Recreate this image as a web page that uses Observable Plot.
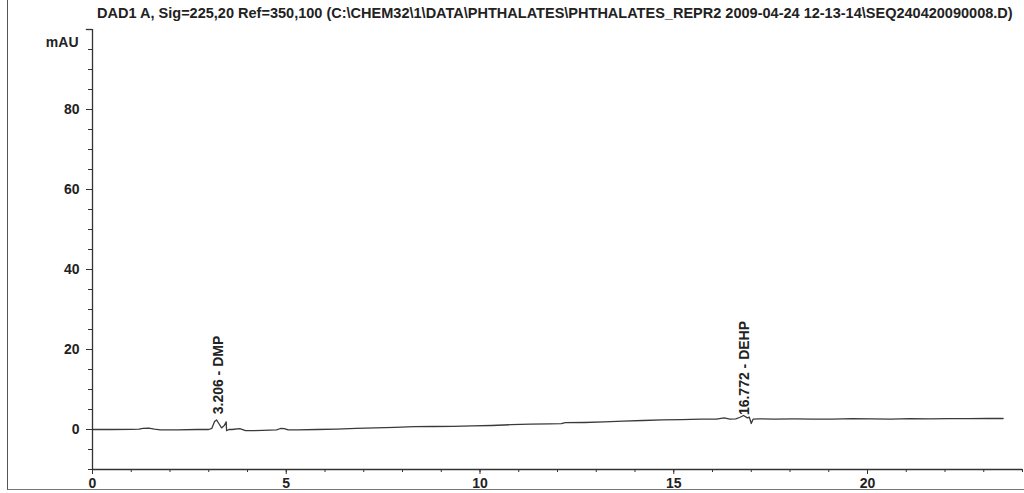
<!DOCTYPE html>
<html>
<head>
<meta charset="utf-8">
<script src="https://cdn.jsdelivr.net/npm/d3@7"></script>
<script src="https://cdn.jsdelivr.net/npm/@observablehq/plot@0.6"></script>
<style>
  html, body { margin: 0; padding: 0; background: #fff; }
  #wrap { position: relative; width: 1024px; height: 493px; overflow: hidden; font-family: "Liberation Sans", Arial, sans-serif; }
  #border { position: absolute; left: 7px; top: -2px; right: -2px; height: 491px; border-left: 1.5px solid #555; border-bottom: 1.5px solid #777; pointer-events: none; }
  #title { position: absolute; left: 97px; top: 5px; white-space: nowrap; font-weight: bold; color: #222; font-size: 12px; line-height: 16px; }
  #chart svg text { font-weight: bold; }
</style>
</head>
<body>
<div id="wrap">
  <div id="chart"></div>
  <div id="border"></div>
  <div id="title">DAD1 A, Sig=225,20 Ref=350,100 (C:\CHEM32\1\DATA\PHTHALATES\PHTHALATES_REPR2 2009-04-24 12-13-14\SEQ240420090008.D)</div>
</div>
<script>
// Retention time (min)
const time = [0, 0.5, 1.0, 1.2, 1.3, 1.45, 1.6, 1.75, 2.2, 2.7, 3.0, 3.08, 3.15, 3.2, 3.26, 3.33, 3.4, 3.45, 3.46, 3.52, 3.6, 3.8, 3.95, 4.1, 4.4, 4.75, 4.85, 4.95, 5.05, 5.3, 5.8, 6.3, 6.8, 7.3, 7.8, 8.3, 8.8, 9.3, 9.8, 10.3, 10.8, 11.3, 11.8, 12.1, 12.2, 12.7, 13.2, 13.7, 14.2, 14.7, 15.2, 15.7, 16.1, 16.3, 16.45, 16.6, 16.7, 16.8, 16.9, 16.95, 17.0, 17.05, 17.2, 17.6, 18.1, 18.6, 19.1, 19.6, 20.1, 20.6, 21.1, 21.6, 22.1, 22.6, 23.1, 23.5];
// Absorbance (mAU)
const mAU = [0, 0, 0.05, 0.1, 0.3, 0.35, 0.1, -0.1, -0.1, 0, 0, 0.3, 2.0, 2.4, 1.5, 0.4, 1.0, 1.9, -0.3, 0, 0, 0.2, -0.3, -0.3, -0.2, -0.1, 0.25, 0.2, -0.1, -0.1, 0.0, 0.1, 0.3, 0.4, 0.55, 0.7, 0.75, 0.8, 0.9, 1.0, 1.2, 1.35, 1.4, 1.45, 1.7, 1.75, 1.9, 2.1, 2.25, 2.4, 2.45, 2.6, 2.6, 2.9, 2.6, 2.65, 3.0, 3.5, 2.9, 3.1, 1.5, 2.6, 2.65, 2.6, 2.65, 2.6, 2.6, 2.7, 2.65, 2.6, 2.7, 2.65, 2.7, 2.7, 2.75, 2.75];

// Peak annotations
const peakTimes = [3.206, 16.772];
const peakLabels = ["3.206 - DMP", "16.772 - DEHP"];
const peakLabelY = [3.8, 3.6];

// Axis ticks
const yMajorTicks = [0, 20, 40, 60, 80];
const yMinorTicks = d3.range(-10, 101, 5);
const xMajorTicks = [0, 5, 10, 15, 20];
const xMinorTicks = d3.range(0, 25, 1);

const trace = time.map((t, i) => ({t, v: mAU[i]}));
const peaks = peakTimes.map((t, i) => ({t, v: peakLabelY[i], label: peakLabels[i]}));

const ink = "#333";

const chart = Plot.plot({
  width: 1024,
  height: 493,
  marginLeft: 92,
  marginRight: 2,
  marginTop: 29,
  marginBottom: 24,
  style: {fontFamily: "Liberation Sans, Arial, sans-serif", fontSize: "14px", color: "#222", background: "transparent"},
  x: {type: "linear", domain: [0, 24], label: null},
  y: {type: "linear", domain: [-10, 100], label: null},
  marks: [
    Plot.axisY({ticks: yMinorTicks, tickSize: 4, tickFormat: () => "", stroke: ink, label: null}),
    Plot.axisY({ticks: yMajorTicks, tickSize: 6, tickPadding: 7, stroke: ink, fill: "#222", fontSize: 14, label: null}),
    Plot.axisX({ticks: xMinorTicks, tickSize: 3, tickFormat: () => "", stroke: ink, label: null}),
    Plot.axisX({ticks: xMajorTicks, tickSize: 5, tickPadding: 4, stroke: ink, fill: "#222", fontSize: 14, label: null}),
    Plot.ruleX([0], {y1: -10, y2: 100, stroke: ink, strokeWidth: 1.3}),
    Plot.ruleY([-10], {x1: 0, x2: 24, stroke: ink, strokeWidth: 1.3}),
    Plot.ruleY([100], {x1: -0.16, x2: 0, stroke: ink, strokeWidth: 1.3}),
    Plot.text(["mAU"], {frameAnchor: "top-left", dx: -14, dy: 8, textAnchor: "end", fill: "#222", fontSize: 14}),
    Plot.line(trace, {x: "t", y: "v", stroke: "#3a3a3a", strokeWidth: 1.3}),
    Plot.text(peaks, {x: "t", y: "v", text: "label", rotate: -90, textAnchor: "start", dx: 2, fill: "#222", fontSize: 14})
  ]
});
document.getElementById("chart").appendChild(chart);

// fit title to reference width
const title = document.getElementById("title");
const w = title.getBoundingClientRect().width;
title.style.fontSize = (12 * 916 / w).toFixed(2) + "px";
</script>
</body>
</html>
